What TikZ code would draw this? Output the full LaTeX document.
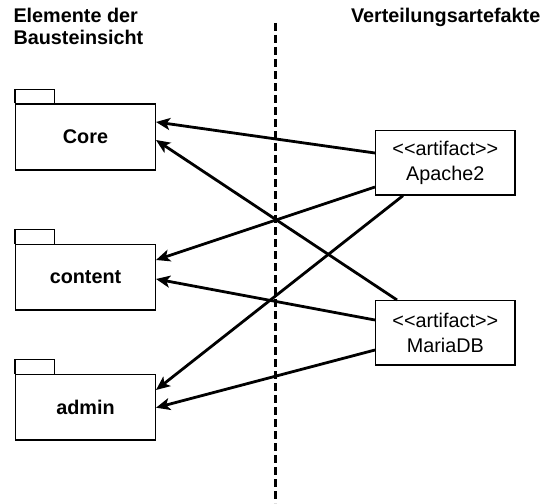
\documentclass[tikz,border=0pt]{standalone}
\usepackage{fontspec}
\setmainfont{Liberation Sans}
\usetikzlibrary{arrows.meta}
\begin{document}
\begin{tikzpicture}[x=1pt,y=-1pt,
  every node/.style={inner sep=0pt, font=\fontsize{19.8}{24.4}\selectfont},
  pkg/.style={draw, line width=1.4pt, minimum width=139.6pt, minimum height=65.8pt, font=\fontsize{19.8}{24.4}\selectfont\bfseries},
  artbox/.style={draw, line width=1.4pt, minimum width=139.3pt, minimum height=64.3pt, align=center},
  tab/.style={draw, line width=1.4pt},
  hdr/.style={font=\fontsize{19.8}{24.4}\selectfont\bfseries},
  dep/.style={line width=2.8pt, -{Stealth[length=14pt,width=12pt,inset=3.5pt]}},
  sep/.style={line width=3pt, dash pattern=on 8pt off 4pt}
]
\useasboundingbox (0,0) rectangle (551,503);
% headers
\node[hdr, anchor=base west] (h1) at (13.3,22.7) {Elemente der};
\node[hdr, anchor=base west] (h2) at (13.3,44.5) {Bausteinsicht};
\node[hdr, anchor=base east] (h3) at (540.5,22.7) {Verteilungsartefakte};
% separator
\coordinate (s1) at (275,23);
\coordinate (s2) at (275,503);
\draw[sep] (s1) -- (s2);
% packages
\node[pkg] (core) at (85.5,137) {Core};
\node[pkg] (content) at (85.5,277.2) {content};
\node[pkg] (admin) at (85.5,407.2) {admin};
\foreach \p in {core,content,admin}{
  \draw[tab] (\p.north west) -- ++(0,-14) -- ++(39.3,0) -- ++(0,14);
}
% artifacts
\node[artbox] (apache) at (445.3,162.8) {{<}{<}artifact{>}{>}\\Apache2};
\node[artbox] (maria) at (445.3,332.8) {{<}{<}artifact{>}{>}\\MariaDB};
% dependencies
\draw[dep] ([yshift=9.8pt]apache.west) -- ([yshift=15pt]core.east);
\draw[dep] ([xshift=-48.3pt]maria.north) -- ([yshift=-3pt]core.east);
\draw[dep] ([yshift=-24.2pt]apache.west) -- ([yshift=17.2pt]content.east);
\draw[dep] ([xshift=-42.3pt]apache.south) -- ([yshift=17.2pt]admin.east);
\draw[dep] ([yshift=12.8pt]maria.west) -- ([yshift=-1.8pt]content.east);
\draw[dep] ([yshift=-17.2pt]maria.west) -- ([yshift=-0.5pt]admin.east);
\end{tikzpicture}
\end{document}
